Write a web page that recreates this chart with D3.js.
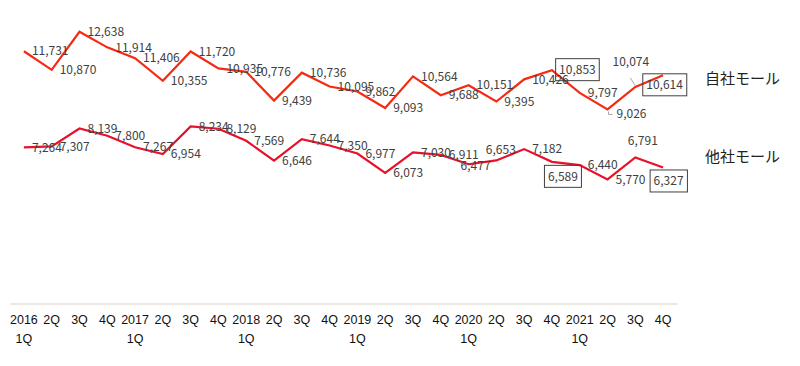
<!DOCTYPE html>
<html><head><meta charset="utf-8">
<script src="https://cdn.jsdelivr.net/npm/d3@7"></script>
<style>
body{margin:0;background:#fff;}
svg{display:block;font-family:"Noto Sans CJK JP","Noto Sans",sans-serif;}
</style></head>
<body><svg id="c" width="800" height="366"></svg>
<script>
const quarters = ["2016\n1Q","2Q","3Q","4Q","2017\n1Q","2Q","3Q","4Q","2018\n1Q","2Q","3Q","4Q",
  "2019\n1Q","2Q","3Q","4Q","2020\n1Q","2Q","3Q","4Q","2021\n1Q","2Q","3Q","4Q"];
const seriesNames = ["自社モール","他社モール"];
const selfMall = [11731,10870,12638,11914,11406,10355,11720,10935,10776,9439,10736,10095,
  9862,9093,10564,9688,10151,9395,10426,10853,9797,9026,10074,10614];
const otherMall = [7264,7307,8139,7800,7267,6954,8234,8129,7569,6646,7644,7350,
  6977,6073,7030,6911,6477,6653,7182,6589,6440,5770,6791,6327];
const yDomain = [0,14000];

// label layout adjustments (not data)
const labelAdjust = {
  "0-19": {dx:25.5, dy:-0.5, box:true, anchor:"middle"},
  "0-21": {dx:9, dy:4},
  "0-22": {dx:-4.5, dy:-25, anchor:"middle", leader:true},
  "0-23": {dx:1.5, dy:9.5, box:true, anchor:"middle"},
  "1-16": {dx:7, dy:2, anchor:"middle"},
  "1-17": {dx:4.5, dy:-10.5, anchor:"middle"},
  "1-19": {dx:11, dy:14.5, box:true, anchor:"middle"},
  "1-22": {dx:7.5, dy:-16.5, anchor:"middle"},
  "1-23": {dx:5.5, dy:13.5, box:true, anchor:"middle"}
};
const colors = ["#f52a12","#e8102a"];

const svg = d3.select("#c");
const x = d3.scaleBand().domain(d3.range(quarters.length)).range([10,677]).padding(0);
const y = d3.scaleLinear().domain(yDomain).range([303.5,2.5]);
const cx = i => x(i) + x.bandwidth()/2;

// axis
const ax = svg.append("g").attr("transform",`translate(0,${y(0)})`)
  .call(d3.axisBottom(x).tickSize(0).tickFormat(()=>""));
ax.select(".domain").attr("stroke","#e6e0db").attr("stroke-width",1.5);
ax.selectAll(".tick text").remove();
ax.selectAll(".tick").each(function(i){
  const t = d3.select(this).append("text").attr("text-anchor","middle")
    .attr("fill","#111").attr("font-size","12.5px").attr("font-weight","500");
  quarters[i].split("\n").forEach((s,k)=>{
    t.append("tspan").attr("x",0).attr("y",20+k*19).text(s);
  });
});

const fmt = d3.format(",");
const line = d3.line().x((d,i)=>cx(i)).y(d=>y(d));
[selfMall, otherMall].forEach((vals,si)=>{
  svg.append("path").datum(vals).attr("d",line).attr("fill","none")
    .attr("stroke",colors[si]).attr("stroke-width",2.2).attr("stroke-linejoin","miter");
});

[selfMall, otherMall].forEach((vals,si)=>{
  const g = svg.append("g");
  vals.forEach((v,i)=>{
    const adj = labelAdjust[si+"-"+i] || {dx:8, dy:0};
    const px = cx(i), py = y(v);
    const t = g.append("text").attr("x",px+adj.dx).attr("y",py+adj.dy)
      .attr("dy","0.35em").attr("text-anchor",adj.anchor||"start")
      .attr("font-size","12px").attr("fill","#404040").text(fmt(v));
    if(adj.box){
      const b = t.node().getBBox();
      g.append("rect").attr("x",b.x-3.5).attr("y",py+adj.dy-11).attr("width",b.width+7).attr("height",22)
        .attr("fill","none").attr("stroke","#404040").attr("stroke-width",1);
    }
    if(adj.leader){
      g.append("line").attr("x1",px-5).attr("y1",py+adj.dy+16).attr("x2",px).attr("y2",py-1)
        .attr("stroke","#a6a6a6").attr("stroke-width",1);
    }
    if(si===0 && i===21){
      g.append("path").attr("d",`M${px+1},${py+2}L${px+1},${py+5}L${px+5},${py+5}`)
        .attr("fill","none").attr("stroke","#a6a6a6").attr("stroke-width",1);
    }
  });
});

// series names
svg.append("text").attr("x",705).attr("y",79).attr("dy","0.35em").attr("font-size","15px")
  .attr("fill","#222").text(seriesNames[0]);
svg.append("text").attr("x",705).attr("y",157).attr("dy","0.35em").attr("font-size","15px")
  .attr("fill","#222").text(seriesNames[1]);
</script></body></html>
